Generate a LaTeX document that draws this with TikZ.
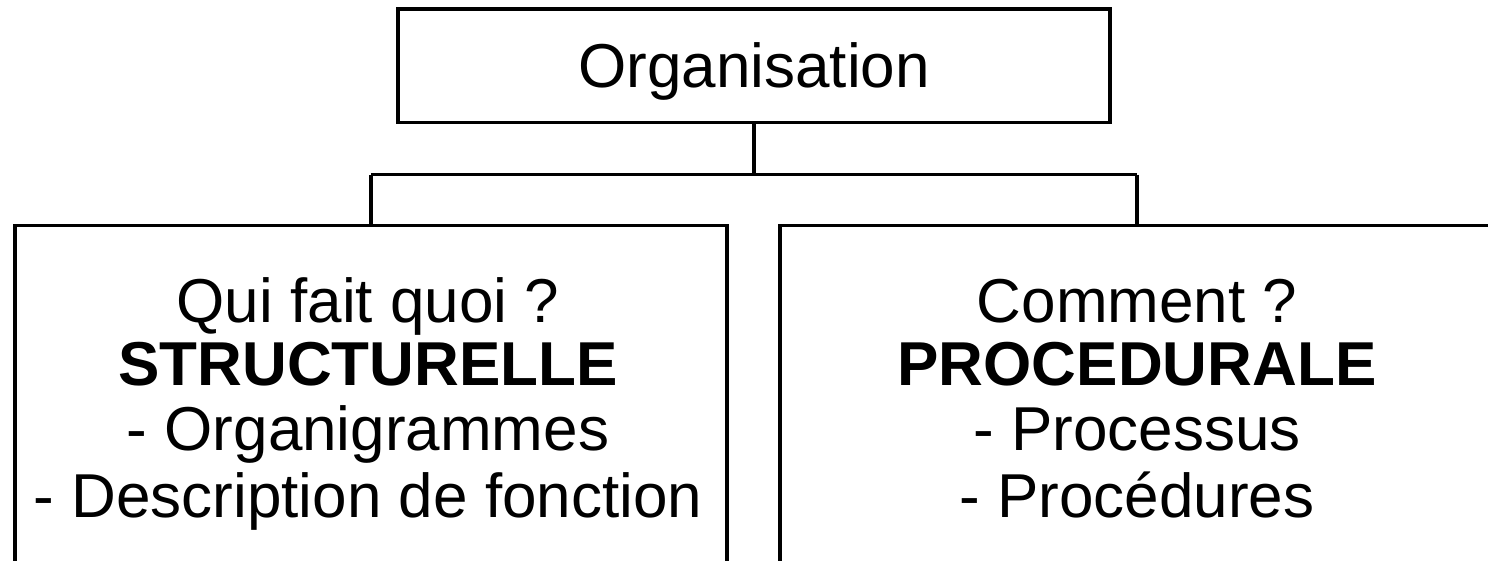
\documentclass[tikz,border=0pt]{standalone}
\usepackage{fontspec}
\setmainfont{Liberation Sans}
\begin{document}
\begin{tikzpicture}[x=1pt,y=-1pt,
  box/.style={draw=black,line width=3.3pt,inner sep=0pt,fill=white},
  txt/.style={anchor=base,inner sep=0pt,font=\fontsize{62}{65}\selectfont},
  link/.style={draw=black,line width=3.3pt}]
  \clip (0,0) rectangle (1488,560);
  \fill[white] (0,0) rectangle (1488,560);

  % top box
  \node[box,minimum width=712pt,minimum height=113.5pt] (top) at (754,65.75) {};
  \node[txt] (toptext) at (754,87) {Organisation};

  % lower boxes (their bottoms run past the page edge)
  \node[box,minimum width=712pt,minimum height=394.5pt] (left) at (371,422.75) {};
  \node[box,minimum width=714pt,minimum height=394.5pt] (right) at (1137,422.75) {};

  % connectors
  \coordinate (bus) at (754,174.5);
  \draw[link] (top.south) -- (bus);
  \draw[link] (left.north |- bus) -- (right.north |- bus);
  \draw[link] (left.north |- bus) -- (left.north);
  \draw[link] (right.north |- bus) -- (right.north);

  % left box text
  \node[txt] (l1) at (368,322) {Qui fait quoi ?};
  \node[txt] (l2) at (368,385) {\bfseries STRUCTURELLE};
  \node[txt] (l3) at (368,450) {- Organigrammes};
  \node[txt] (l4) at (368,517) {- Description de fonction};

  % right box text
  \node[txt] (r1) at (1137,322) {Comment ?};
  \node[txt] (r2) at (1137,385) {\bfseries PROCEDURALE};
  \node[txt] (r3) at (1137,450) {- Processus};
  \node[txt] (r4) at (1137,517) {- Procédures};
\end{tikzpicture}
\end{document}
